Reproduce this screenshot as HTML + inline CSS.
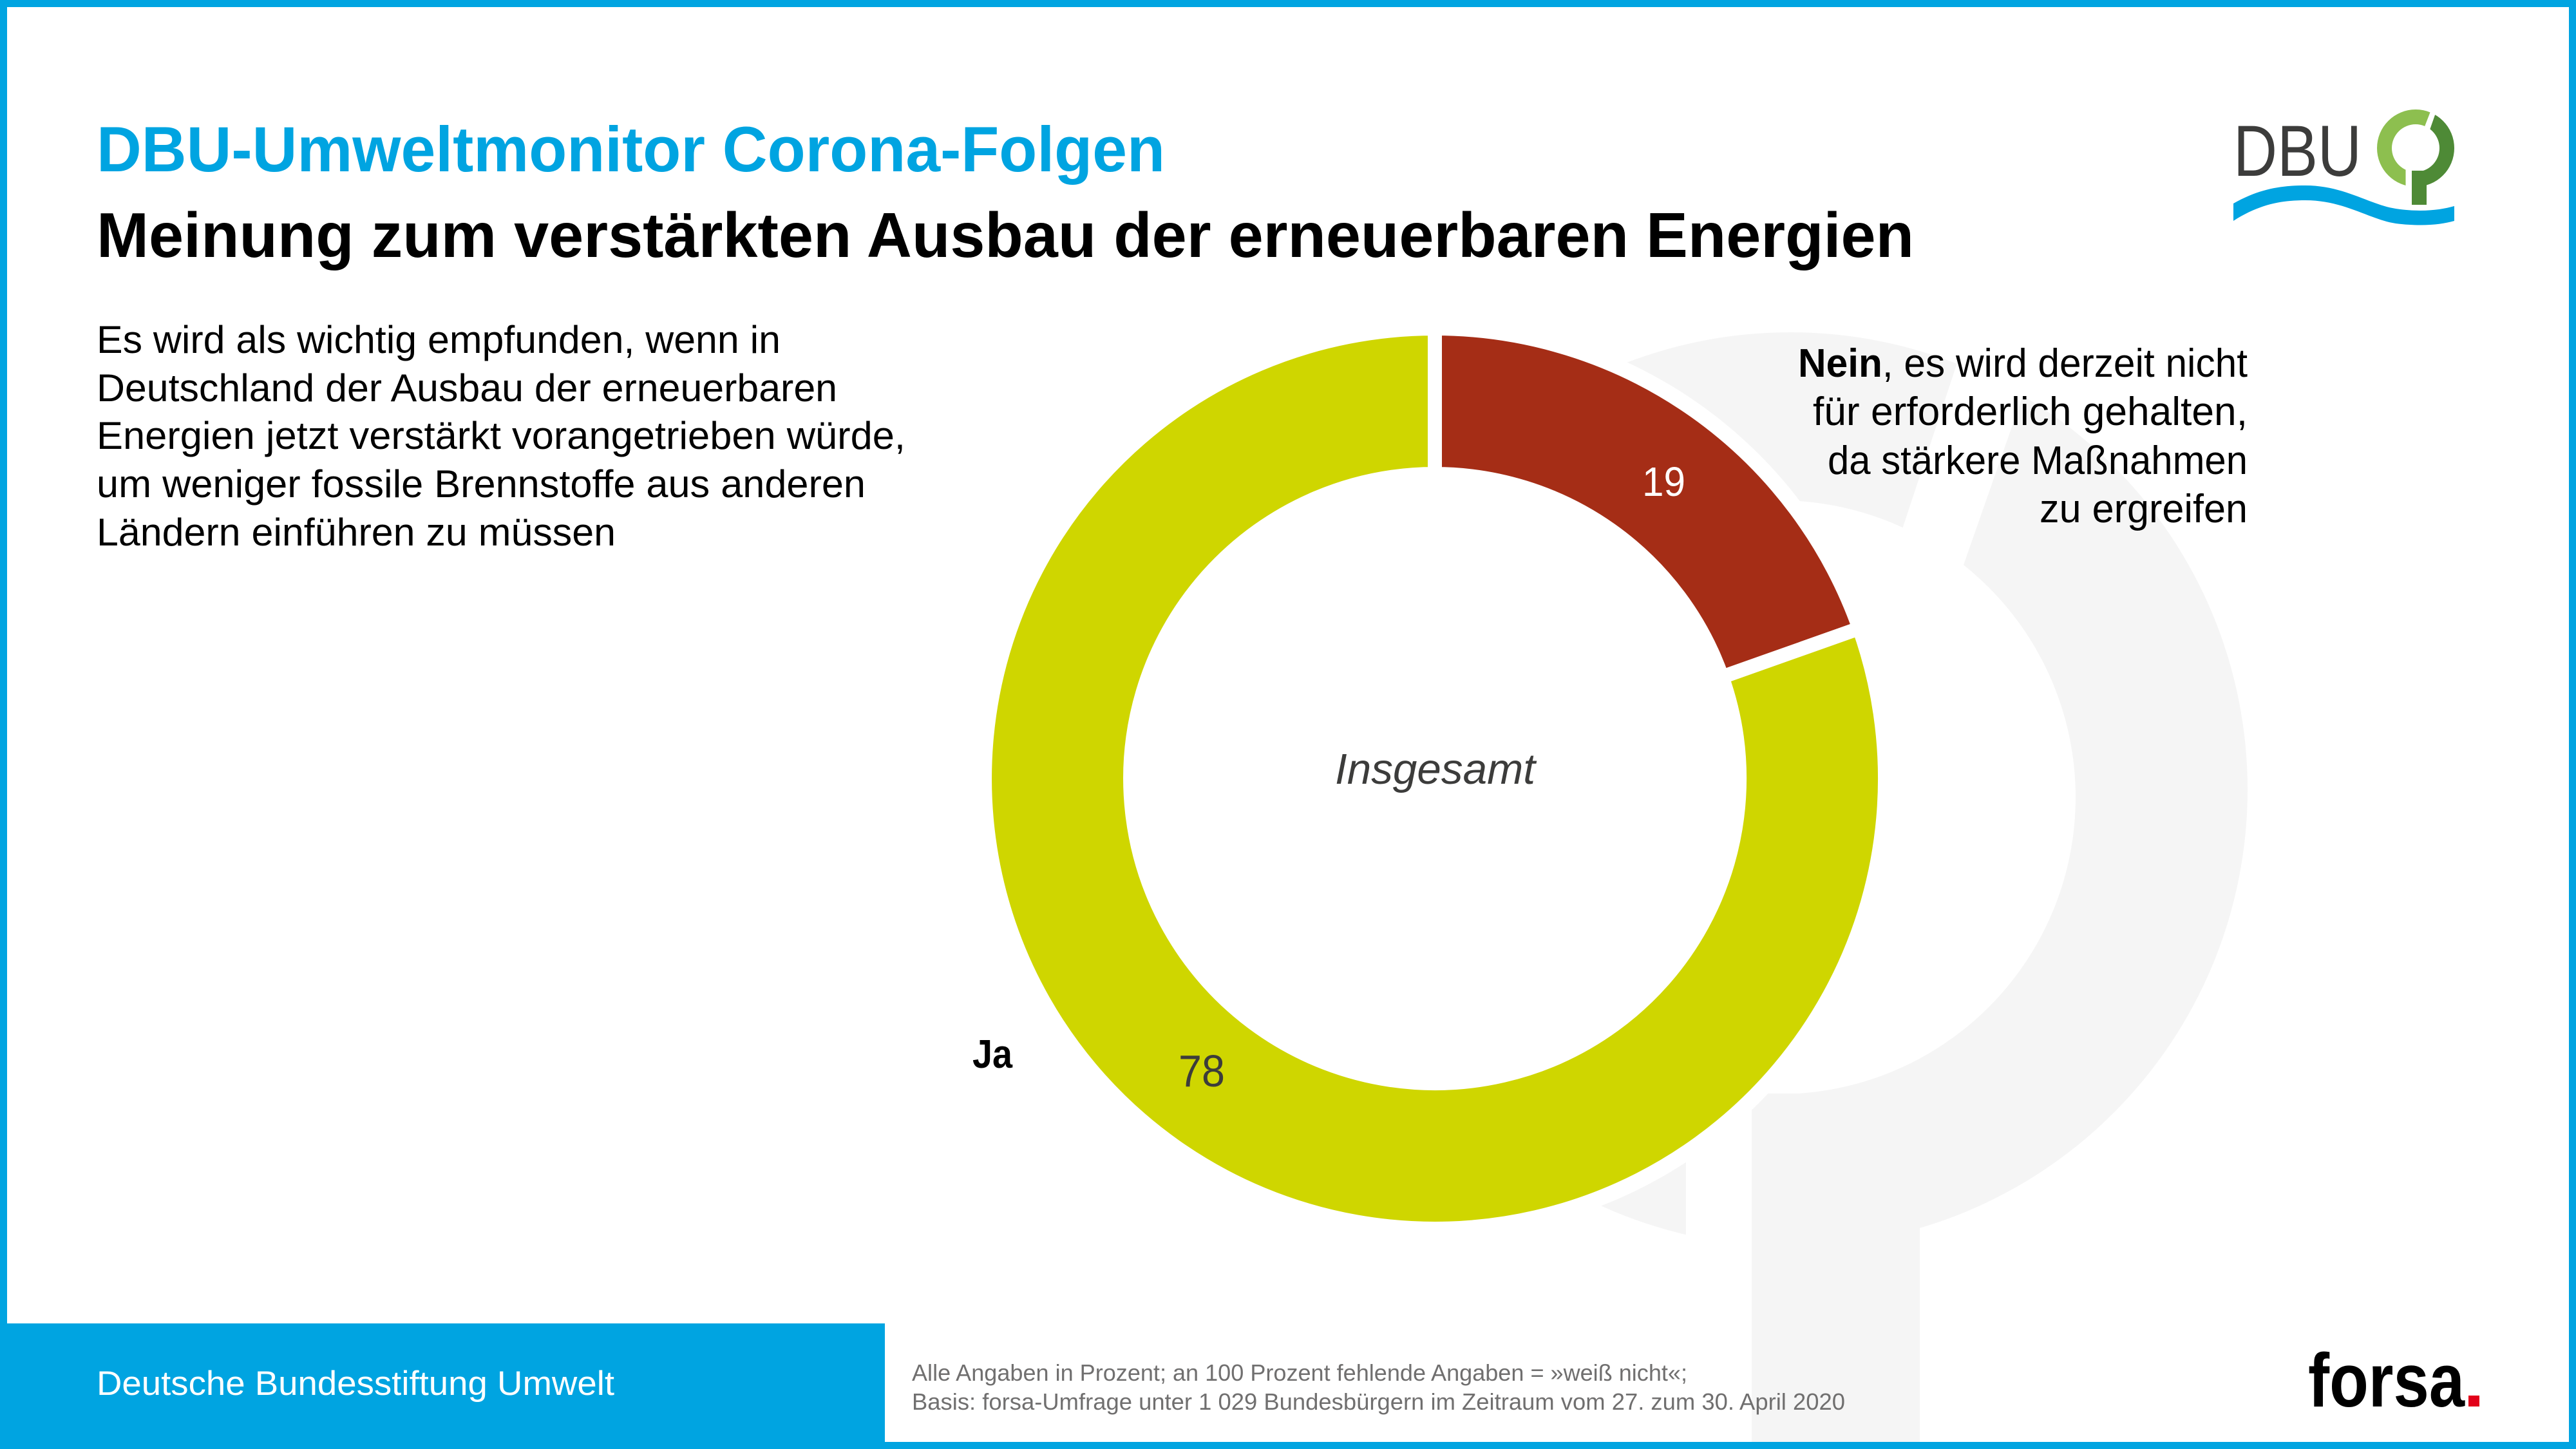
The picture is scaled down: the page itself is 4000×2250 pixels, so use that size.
<!DOCTYPE html>
<html><head><meta charset="utf-8"><style>
html,body{margin:0;padding:0;background:#fff;}
svg{display:block;}
text{font-family:"Liberation Sans","DejaVu Sans",sans-serif;}
</style></head><body>
<svg width="4000" height="2250" viewBox="0 0 4000 2250" xmlns="http://www.w3.org/2000/svg">
<defs>
<clipPath id="cl"><polygon points="3783,150 3752,230 3735.5,230 3735.5,330 3680,330 3680,150"/></clipPath>
<clipPath id="cd"><polygon points="3791,150 3830,150 3830,330 3745,330 3745,230 3763,230"/></clipPath>
</defs>
<rect x="0" y="0" width="4000" height="2250" fill="#fff"/>

<!-- background grey logo shape -->
<path fill="#f5f5f5" fill-rule="evenodd" d="M2070,1226 a710,710 0 1 0 1420 0 a710,710 0 1 0 -1420 0 Z M2301,1238 a461,461 0 1 0 922 0 a461,461 0 1 0 -922 0 Z"/>
<polygon points="3093,400 3216,400 3006,1000 2895,1000" fill="#fff"/>
<rect x="2618" y="1600" width="102" height="360" fill="#fff"/>
<rect x="2720" y="1698" width="261" height="560" fill="#f5f5f5"/>
<circle cx="2228" cy="1209" r="712" fill="#fff"/>

<!-- donut -->
<path d="M2228,510 A699,699 0 0 1 2887.0,975.8 L2674.0,1051.2 A473,473 0 0 0 2228,736 Z" fill="#a52d16" stroke="#fff" stroke-width="22" stroke-linejoin="miter"/>
<path d="M2887.0,975.8 A699,699 0 1 1 2228,510 L2228,736 A473,473 0 1 0 2674.0,1051.2 Z" fill="#cfd600" stroke="#fff" stroke-width="22" stroke-linejoin="miter"/>

<text x="2550" y="770" font-size="64" fill="#fff" textLength="67" lengthAdjust="spacingAndGlyphs">19</text>
<text x="1830" y="1687" font-size="70" fill="#3c3c3b" textLength="72" lengthAdjust="spacingAndGlyphs">78</text>
<text x="2073" y="1217" font-size="67" font-style="italic" fill="#3c3c3b" textLength="311" lengthAdjust="spacingAndGlyphs">Insgesamt</text>
<text x="1510" y="1658" font-size="62" font-weight="bold" fill="#000" textLength="62" lengthAdjust="spacingAndGlyphs">Ja</text>

<!-- titles -->
<text x="150" y="266" font-size="99" font-weight="bold" fill="#00a4e1" textLength="1659" lengthAdjust="spacingAndGlyphs">DBU-Umweltmonitor Corona-Folgen</text>
<text x="150" y="399" font-size="98" font-weight="bold" fill="#000" textLength="2822" lengthAdjust="spacingAndGlyphs">Meinung zum verstärkten Ausbau der erneuerbaren Energien</text>

<!-- paragraph -->
<g font-size="60" fill="#000">
<text x="150" y="548" textLength="1062" lengthAdjust="spacingAndGlyphs">Es wird als wichtig empfunden, wenn in</text>
<text x="150" y="623" textLength="1150" lengthAdjust="spacingAndGlyphs">Deutschland der Ausbau der erneuerbaren</text>
<text x="150" y="697" textLength="1256" lengthAdjust="spacingAndGlyphs">Energien jetzt verstärkt vorangetrieben würde,</text>
<text x="150" y="772" textLength="1194" lengthAdjust="spacingAndGlyphs">um weniger fossile Brennstoffe aus anderen</text>
<text x="150" y="847" textLength="806" lengthAdjust="spacingAndGlyphs">Ländern einführen zu müssen</text>
</g>

<!-- right annotation -->
<g font-size="62" fill="#000" text-anchor="end">
<text x="3490" y="585" textLength="698" lengthAdjust="spacingAndGlyphs"><tspan font-weight="bold">Nein</tspan>, es wird derzeit nicht</text>
<text x="3490" y="660" textLength="675" lengthAdjust="spacingAndGlyphs">für erforderlich gehalten,</text>
<text x="3490" y="736" textLength="652" lengthAdjust="spacingAndGlyphs">da stärkere Maßnahmen</text>
<text x="3490" y="811" textLength="323" lengthAdjust="spacingAndGlyphs">zu ergreifen</text>
</g>

<!-- DBU logo -->
<text x="3468" y="273" font-size="112" fill="#3c3c3b" textLength="199" lengthAdjust="spacingAndGlyphs">DBU</text>
<path fill-rule="evenodd" fill="#8dbf4f" clip-path="url(#cl)" d="M3691,230 a60,60 0 1 0 120 0 a60,60 0 1 0 -120 0 Z M3714,230 a37,37 0 1 0 74 0 a37,37 0 1 0 -74 0 Z"/>
<path fill-rule="evenodd" fill="#4e8a36" clip-path="url(#cd)" d="M3691,230 a60,60 0 1 0 120 0 a60,60 0 1 0 -120 0 Z M3714,230 a37,37 0 1 0 74 0 a37,37 0 1 0 -74 0 Z"/>
<rect x="3745" y="265" width="23" height="53" fill="#4e8a36"/>
<path fill="#00a4e1" d="M3468,316 C3510,292 3545,288 3580,288 C3640,288 3680,318 3720,324 C3760,330 3790,326 3811,320 L3811,343 C3790,349 3760,352 3720,347 C3680,341 3640,311 3580,311 C3545,311 3510,316 3468,343 Z"/>

<!-- footer -->
<rect x="0" y="2055" width="1374" height="195" fill="#00a4e1"/>
<text x="150" y="2166" font-size="53" fill="#fff" textLength="804" lengthAdjust="spacingAndGlyphs">Deutsche Bundesstiftung Umwelt</text>
<g font-size="36" fill="#706f6f">
<text x="1416" y="2144" textLength="1204" lengthAdjust="spacingAndGlyphs">Alle Angaben in Prozent; an 100 Prozent fehlende Angaben = »weiß nicht«;</text>
<text x="1416" y="2189" textLength="1449" lengthAdjust="spacingAndGlyphs">Basis: forsa-Umfrage unter 1 029 Bundesbürgern im Zeitraum vom 27. zum 30. April 2020</text>
</g>
<text x="3584" y="2184" font-size="118" font-weight="bold" fill="#000" textLength="243" lengthAdjust="spacingAndGlyphs">forsa</text>
<rect x="3833" y="2167" width="17" height="17" fill="#e2001a"/>

<!-- border -->
<rect x="0" y="0" width="4000" height="11" fill="#00a4e1"/>
<rect x="0" y="0" width="11" height="2250" fill="#00a4e1"/>
<rect x="3989" y="0" width="11" height="2250" fill="#00a4e1"/>
<rect x="0" y="2239" width="4000" height="11" fill="#00a4e1"/>
</svg>
</body></html>
